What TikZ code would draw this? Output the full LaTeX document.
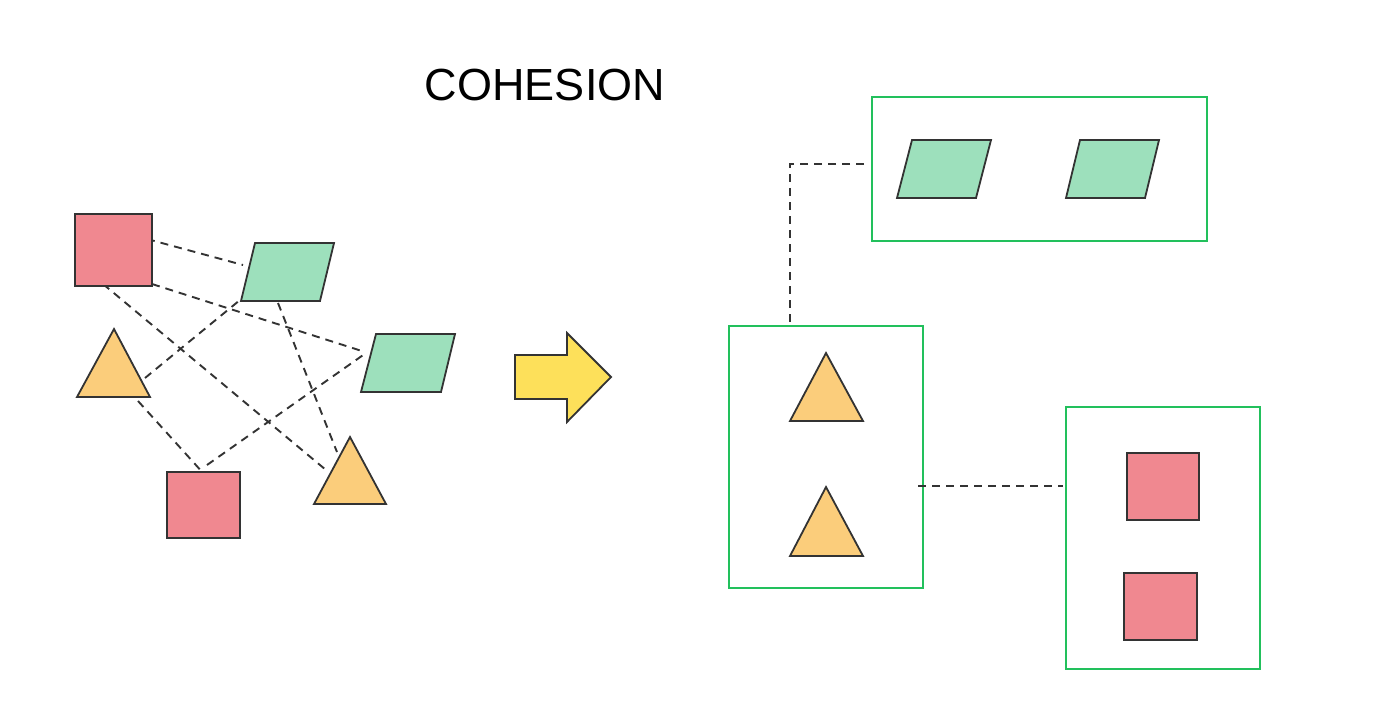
\documentclass[tikz,border=0pt]{standalone}
\usepackage{fontspec}
\setmainfont{Liberation Sans}
\begin{document}
\begin{tikzpicture}[x=1pt,y=-1pt,
  outl/.style={draw=ink,line width=1.8pt,line join=miter},
  redsq/.style={outl,fill=redf},
  greenp/.style={outl,fill=greenf},
  tri/.style={outl,fill=trif},
  grpbox/.style={draw=boxg,line width=2pt},
  dashline/.style={draw=ink,line width=1.9pt,dash pattern=on 8pt off 6pt}]
\definecolor{ink}{HTML}{333333}
\definecolor{redf}{HTML}{F08890}
\definecolor{greenf}{HTML}{9DE0BC}
\definecolor{trif}{HTML}{FBCD7B}
\definecolor{arrowf}{HTML}{FDE05A}
\definecolor{boxg}{HTML}{22C05C}
\useasboundingbox (0,0) rectangle (1378,720);

% title
\node[font=\fontsize{45}{54}\selectfont,inner sep=0pt] (title) at (545,85) {COHESION};

% ---- left cluster: connector end points ----
\coordinate (r1a) at (147,239);
\coordinate (g1a) at (243,265);
\coordinate (r1b) at (152,284);
\coordinate (g2a) at (365,352);
\coordinate (r1c) at (103,284);
\coordinate (t2a) at (326,470);
\coordinate (t1a) at (145,378);
\coordinate (g1b) at (240,300);
\coordinate (g1c) at (278,303);
\coordinate (t2b) at (337,452);
\coordinate (t1b) at (138,401);
\coordinate (r2a) at (204,474);
\coordinate (r2b) at (207,465);
\coordinate (g2b) at (366,353);

% connectors (drawn first, under the shapes)
\draw[dashline] (r1a) -- (g1a);
\draw[dashline] (r1b) -- (g2a);
\draw[dashline] (r1c) -- (t2a);
\draw[dashline] (t1a) -- (g1b);
\draw[dashline] (g1c) -- (t2b);
\draw[dashline] (t1b) -- (r2a);
\draw[dashline] (r2b) -- (g2b);

% shapes
\draw[redsq] (75,214) rectangle (152,286);
\draw[greenp] (255,243) -- (334,243) -- (320,301) -- (241,301) -- cycle;
\draw[greenp] (376,334) -- (455,334) -- (441,392) -- (361,392) -- cycle;
\draw[tri] (114,329) -- (150,397) -- (77,397) -- cycle;
\draw[redsq] (167,472) rectangle (240,538);
\draw[tri] (350,437) -- (386,504) -- (314,504) -- cycle;

% big arrow
\draw[outl,fill=arrowf] (515,355) -- (567,355) -- (567,333) -- (611,377) -- (567,422) -- (567,399) -- (515,399) -- cycle;

% ---- right side: groups ----
\node[grpbox,minimum width=335pt,minimum height=144pt,inner sep=0pt] (boxG) at (1039.5,169) {};
\node[grpbox,minimum width=194pt,minimum height=262pt,inner sep=0pt] (boxT) at (826,457) {};
\node[grpbox,minimum width=194pt,minimum height=262pt,inner sep=0pt] (boxR) at (1163,538) {};

\draw[greenp] (912,140) -- (991,140) -- (976,198) -- (897,198) -- cycle;
\draw[greenp] (1080,140) -- (1159,140) -- (1145,198) -- (1066,198) -- cycle;
\draw[tri] (826,353) -- (863,421) -- (790,421) -- cycle;
\draw[tri] (826,487) -- (863,556) -- (790,556) -- cycle;
\draw[redsq] (1127,453) rectangle (1199,520);
\draw[redsq] (1124,573) rectangle (1197,640);

\coordinate (cG) at (864,164);
\coordinate (cT) at (790,324);
\coordinate (cT2) at (918,486);
\coordinate (cR) at (1063,486);
\draw[dashline] (cG) -- (cT |- cG) -- (cT);
\draw[dashline] (cT2) -- (cR);
\end{tikzpicture}
\end{document}
